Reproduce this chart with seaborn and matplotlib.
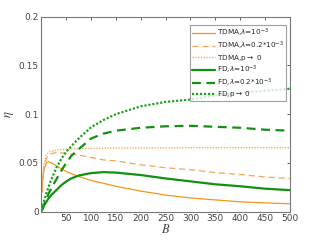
import numpy as np
import pandas as pd
import matplotlib
matplotlib.use("Agg")
import matplotlib.pyplot as plt
import seaborn as sns

B = [1, 2, 5, 10, 15, 20, 30, 40, 50, 60, 75, 100, 125, 150, 200, 250, 300, 350, 400, 450, 500]

tdma_1 = [0.020, 0.030, 0.043, 0.050, 0.051, 0.050, 0.047, 0.044, 0.041, 0.039, 0.036, 0.032,
          0.029, 0.026, 0.021, 0.017, 0.014, 0.012, 0.010, 0.009, 0.008]
tdma_02 = [0.020, 0.030, 0.044, 0.054, 0.058, 0.0595, 0.0605, 0.0603, 0.0598, 0.059, 0.058, 0.0555,
           0.053, 0.052, 0.048, 0.045, 0.043, 0.040, 0.038, 0.0355, 0.034]
tdma_p0 = [0.020, 0.032, 0.048, 0.058, 0.061, 0.062, 0.063, 0.0635, 0.064, 0.0643, 0.0646, 0.065,
           0.065, 0.0652, 0.0653, 0.0654, 0.0655, 0.0655, 0.0655, 0.0655, 0.0655]
fd_1 = [0.0012, 0.0025, 0.006, 0.010, 0.014, 0.017, 0.022, 0.027, 0.031, 0.034, 0.037, 0.0395,
        0.0405, 0.040, 0.0375, 0.034, 0.031, 0.028, 0.026, 0.0235, 0.022]
fd_02 = [0.0013, 0.0028, 0.007, 0.013, 0.019, 0.024, 0.033, 0.042, 0.050, 0.057, 0.064, 0.075,
         0.080, 0.083, 0.086, 0.0875, 0.088, 0.087, 0.086, 0.084, 0.083]
fd_p0 = [0.002, 0.004, 0.010, 0.019, 0.026, 0.033, 0.045, 0.054, 0.0615, 0.067, 0.075, 0.0865,
         0.094, 0.100, 0.108, 0.1125, 0.115, 0.119, 0.122, 0.124, 0.126]

labels = [r"TDMA,$\lambda$=10$^{-3}$", r"TDMA,$\lambda$=0.2*10$^{-3}$", r"TDMA,p$\rightarrow$ 0",
          r"FD,$\lambda$=10$^{-3}$", r"FD,$\lambda$=0.2*10$^{-3}$", r"FD,p$\rightarrow$ 0"]
series = [tdma_1, tdma_02, tdma_p0, fd_1, fd_02, fd_p0]

df = pd.concat([pd.DataFrame({"B": B, "eta": s, "curve": lab}) for s, lab in zip(series, labels)])

sns.set_style("white")
plt.rcParams["font.family"] = ["DejaVu Sans"]
plt.rcParams["mathtext.fontset"] = "dejavusans"

fig = plt.figure(figsize=(3.21, 2.41), dpi=100)
ax = fig.add_axes([0.129, 0.122, 0.774, 0.809])

orange = "#f0961e"
styles = {
    labels[0]: dict(color=orange, lw=0.9, ls="-"),
    labels[1]: dict(color="#f2a653", lw=0.9, ls=(0, (5, 3))),
    labels[2]: dict(color="#f2ac5c", lw=1.0, ls=(0, (1, 1))),
    labels[3]: dict(color="#119011", lw=1.6, ls="-"),
    labels[4]: dict(color="#119011", lw=1.6, ls=(0, (4, 2.5))),
    labels[5]: dict(color="#22a022", lw=1.6, ls=(0, (1, 0.8))),
}
for lab in labels:
    st = styles[lab]
    sns.lineplot(data=df[df["curve"] == lab], x="B", y="eta", ax=ax, label=lab,
                 color=st["color"], linewidth=st["lw"], linestyle=st["ls"])

ax.set_xlim(0, 500)
ax.set_ylim(0, 0.2)
ax.set_xticks(np.arange(50, 501, 50))
ax.set_yticks([0, 0.05, 0.1, 0.15, 0.2])
ax.set_yticklabels(["0", "0.05", "0.1", "0.15", "0.2"])
ax.tick_params(direction="in", length=2.5, width=0.6, labelsize=6.5, colors="#444444",
               top=True, right=True, pad=2)
for sp in ax.spines.values():
    sp.set_color("#777777")
    sp.set_linewidth(0.8)
ax.set_xlabel(r"$B$", fontsize=9, color="#444444", labelpad=0, math_fontfamily="stix")
ax.set_ylabel(r"$\eta$", fontsize=9, color="#444444", labelpad=2, math_fontfamily="stix")

leg = ax.legend(loc="upper right", fontsize=5.2, frameon=True, fancybox=False,
                handlelength=3.2, handletextpad=0.2, borderpad=0.3, labelspacing=0.08,
                borderaxespad=0, bbox_to_anchor=(0.984, 0.957))
leg.get_frame().set_edgecolor("#888888")
leg.get_frame().set_linewidth(0.8)

fig.savefig("out.png", dpi=100)
